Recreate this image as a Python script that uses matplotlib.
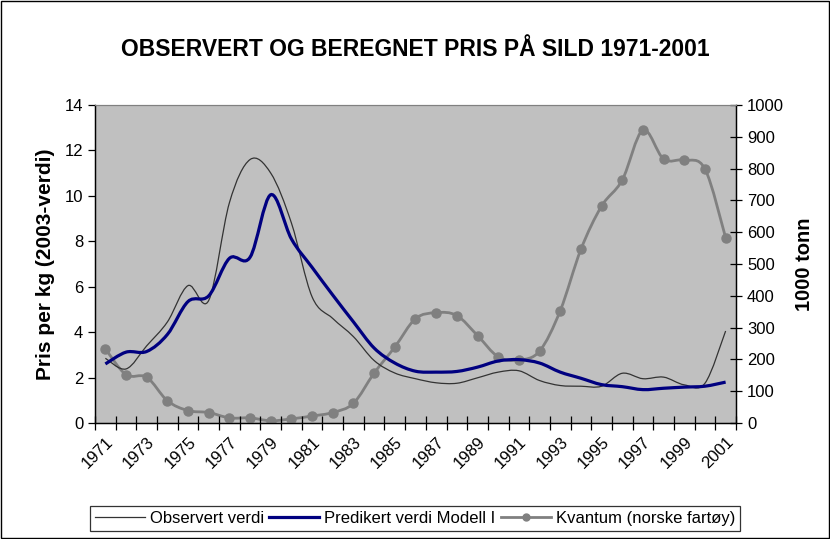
import numpy as np
import matplotlib
matplotlib.use("Agg")
import matplotlib.pyplot as plt
from matplotlib.path import Path
from matplotlib.patches import PathPatch, Rectangle
from matplotlib.lines import Line2D

plt.rcParams['font.family'] = ['Liberation Sans', 'DejaVu Sans']

# Data
years = list(range(1971, 2002))
observert = [2.85, 2.38, 3.4, 4.45, 6.05, 5.4, 9.7, 11.6, 11.0, 8.8,
             5.55, 4.6, 3.8, 2.75, 2.2, 1.95, 1.77, 1.75, 1.99, 2.24,
             2.3, 1.87, 1.65, 1.62, 1.62, 2.19, 1.95, 2.02, 1.68, 1.75,
             4.05]
predikert = [2.6, 3.12, 3.15, 3.9, 5.35, 5.6, 7.25, 7.3, 10.05, 8.1,
             6.85, 5.63, 4.45, 3.3, 2.64, 2.28, 2.24, 2.27, 2.46, 2.73,
             2.79, 2.64, 2.24, 1.97, 1.69, 1.6, 1.47, 1.53, 1.58, 1.62,
             1.8]
kvantum = [233, 152, 144, 70, 39, 33, 16, 16, 7, 13,
           22, 33, 62, 157, 239, 328, 347, 338, 275, 208,
           198, 226, 353, 546, 682, 764, 921, 830, 827, 799,
           583]


def smooth_path(x, y):
    # Excel-style smoothed line: cubic Bezier through every point
    x = np.asarray(x, float)
    y = np.asarray(y, float)
    n = len(x)
    verts = [(x[0], y[0])]
    codes = [Path.MOVETO]
    for i in range(n - 1):
        i0 = max(i - 1, 0)
        i3 = min(i + 2, n - 1)
        c1 = (x[i] + (x[i + 1] - x[i0]) / 6, y[i] + (y[i + 1] - y[i0]) / 6)
        c2 = (x[i + 1] - (x[i3] - x[i]) / 6, y[i + 1] - (y[i3] - y[i]) / 6)
        verts += [c1, c2, (x[i + 1], y[i + 1])]
        codes += [Path.CURVE4] * 3
    return Path(verts, codes)


fig = plt.figure(figsize=(8.3, 5.39), dpi=100)
ax = fig.add_axes([0.1145, 0.2152, 0.7722, 0.59])
ax2 = ax.twinx()

# kvantum axis underneath, price axis on top with a clear background
ax.set_zorder(ax2.get_zorder() + 1)
ax.patch.set_visible(False)
ax2.patch.set_visible(True)
ax2.patch.set_facecolor('#c0c0c0')

xs = np.arange(len(years))

ax.add_patch(PathPatch(smooth_path(xs, observert), fill=False,
                       edgecolor='#333333', lw=0.9, zorder=3))
ax.add_patch(PathPatch(smooth_path(xs, predikert), fill=False,
                       edgecolor='#000080', lw=2.3, zorder=4))
ax2.add_patch(PathPatch(smooth_path(xs, kvantum), fill=False,
                        edgecolor='#808080', lw=2.0, zorder=2))
ax2.plot(xs, kvantum, 'o', color='#808080', ms=6.5, zorder=3)

ax.set_xlim(-0.5, len(years) - 0.5)
ax.set_ylim(0, 14)
ax2.set_ylim(0, 1000)
ax.set_yticks(range(0, 15, 2))
ax2.set_yticks(range(0, 1001, 100))

# ticks on category boundaries, labels on every second year
ax.set_xticks(np.arange(-0.5, len(years), 1.0))
ax.set_xticklabels([])
ax.set_xticks(xs[::2], minor=True)
ax.set_xticklabels([str(y) for y in years[::2]], minor=True,
                   rotation=45, ha='right', va='top', rotation_mode='anchor')
ax.tick_params(axis='x', which='major', direction='inout', length=10, width=0.9)
ax.tick_params(axis='x', which='minor', length=0, pad=8, labelsize=12)
ax.tick_params(axis='y', direction='out', length=5, width=0.9, labelsize=12)
ax2.tick_params(axis='y', direction='inout', length=9, width=0.9, labelsize=12)

for a in (ax, ax2):
    for s in ('left', 'right', 'bottom'):
        a.spines[s].set_color('black')
        a.spines[s].set_linewidth(0.9)
    a.spines['top'].set_color('#808080')

ax.set_ylabel('Pris per kg (2003-verdi)', fontsize=15, fontweight='bold', labelpad=7)
ax2.set_ylabel('1000 tonn', fontsize=14.5, fontweight='bold', labelpad=8)
fig.suptitle('OBSERVERT OG BEREGNET PRIS PÅ SILD 1971-2001',
             fontsize=16.5, fontweight='bold', y=0.93)

handles = [
    Line2D([], [], color='#333333', lw=0.9),
    Line2D([], [], color='#000080', lw=2.3),
    Line2D([], [], color='#808080', lw=2.0, marker='o', ms=5),
]
labels = ['Observert verdi', 'Predikert verdi Modell I', 'Kvantum (norske fartøy)']
leg = fig.legend(handles, labels, loc='lower center', bbox_to_anchor=(0.5, 0.0),
                 ncol=3, fontsize=12, frameon=True, fancybox=False,
                 edgecolor='black', handlelength=3, handletextpad=0.3,
                 columnspacing=0.3, borderpad=0.3)
leg.get_frame().set_linewidth(0.9)

fig.patches.append(Rectangle((0.001, 0.001), 0.998, 0.998, transform=fig.transFigure,
                             fill=False, edgecolor='black', lw=1.0))

fig.savefig('out.png', dpi=100)
